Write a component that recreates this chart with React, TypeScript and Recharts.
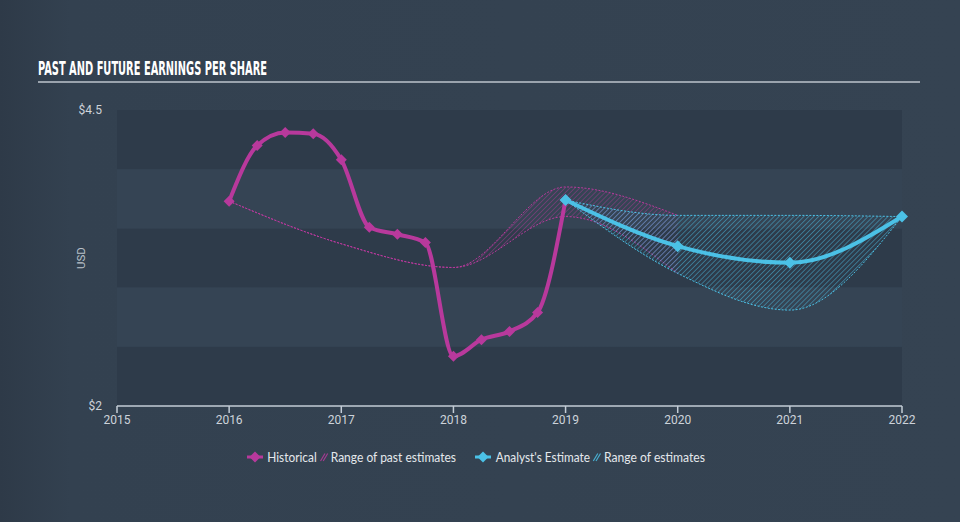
import React from 'react';
import { ComposedChart, Line, Area, XAxis, YAxis, ReferenceArea } from 'recharts';

const MAGENTA = '#b8399c';
const CYAN = '#4bc1e6';

// Historical EPS (quarterly points)
const histYears = [2016, 2016.25, 2016.5, 2016.75, 2017, 2017.25, 2017.5, 2017.75, 2018, 2018.25, 2018.5, 2018.75, 2019];
const histEps = [3.73, 4.2, 4.31, 4.3, 4.08, 3.51, 3.45, 3.38, 2.42, 2.56, 2.63, 2.79, 3.74];

// Range of past estimates
const pastYears = [2016, 2017, 2018, 2019, 2020];
const pastLow = [3.73, 3.37, 3.17, 3.6, 3.12];
const pastHigh = [3.73, 3.37, 3.17, 3.85, 3.61];

// Analyst estimates
const estYears = [2019, 2020, 2021, 2022];
const estEps = [3.74, 3.35, 3.21, 3.6];
const estLow = [3.74, 3.12, 2.81, 3.6];
const estHigh = [3.74, 3.61, 3.61, 3.6];

const xTicks = [2015, 2016, 2017, 2018, 2019, 2020, 2021, 2022];
const yTicks = [2, 4.5];
const bandsDark = [[4, 4.5], [3, 3.5], [2, 2.5]];
const bandsLight = [[3.5, 4], [2.5, 3]];

const histData = histYears.map((x, i) => ({ x, eps: histEps[i] }));
const pastRangeData = pastYears.map((x, i) => ({ x, range: [pastLow[i], pastHigh[i]] }));
const estData = estYears.map((x, i) => ({ x, eps: estEps[i] }));
const estRangeData = estYears.map((x, i) => ({ x, range: [estLow[i], estHigh[i]] }));

const diamondPath = (cx: number, cy: number, r: number) =>
  `M${cx},${cy - r} L${cx + r},${cy} L${cx},${cy + r} L${cx - r},${cy} Z`;

const makeDot = (color: string, r: number) => (p: any) => {
  if (p.cx == null || p.cy == null) return <g key={`d${p.index}`} />;
  return <path key={`d${p.index}`} d={diamondPath(p.cx, p.cy, r)} fill={color} />;
};

const HatchIcon = ({ x, color }: { x: number; color: string }) => (
  <g stroke={color} strokeWidth={1.2} strokeOpacity={0.85}>
    <line x1={x} y1={461} x2={x + 4.5} y2={453.5} />
    <line x1={x + 2.7} y1={461} x2={x + 7.2} y2={453.5} />
  </g>
);

const LegendOverlay = () => (
  <svg width={960} height={522} style={{ position: 'absolute', left: 0, top: 0, pointerEvents: 'none' }}>
    <text x={38} y={75} fill="#ffffff" fontFamily="'Liberation Sans Narrow', 'DejaVu Sans Condensed', sans-serif"
      fontWeight="bold" fontSize={20} textLength={229} lengthAdjust="spacingAndGlyphs">
      PAST AND FUTURE EARNINGS PER SHARE
    </text>
    <rect x={38} y={81} width={882} height={2} fill="#9aa3ad" />
    <text x={0} y={0} transform="translate(85,258) rotate(-90)" textAnchor="middle" fill="#b9c1ca"
      fontFamily="Roboto, sans-serif" fontSize={11.5}>USD</text>

    <g fontFamily="Lato, 'Noto Sans', sans-serif" fontSize={12.5} fill="#e4e8ec" lengthAdjust="spacingAndGlyphs">
      <line x1={247} y1={457} x2={263} y2={457} stroke={MAGENTA} strokeWidth={3} />
      <path d={diamondPath(255, 457, 5.5)} fill={MAGENTA} />
      <text x={267.3} y={461.5} textLength={49.4} lengthAdjust="spacingAndGlyphs">Historical</text>
      <HatchIcon x={320.5} color={MAGENTA} />
      <text x={330.7} y={461.5} textLength={125.3} lengthAdjust="spacingAndGlyphs">Range of past estimates</text>

      <line x1={475} y1={457} x2={491} y2={457} stroke={CYAN} strokeWidth={3} />
      <path d={diamondPath(483, 457, 5.5)} fill={CYAN} />
      <text x={495.7} y={461.5} textLength={94.3} lengthAdjust="spacingAndGlyphs">Analyst's Estimate</text>
      <HatchIcon x={593.3} color={CYAN} />
      <text x={604} y={461.5} textLength={101} lengthAdjust="spacingAndGlyphs">Range of estimates</text>
    </g>
  </svg>
);

export default function App() {
  return (
    <div style={{
      position: 'absolute', left: 0, top: 0, width: 960, height: 522,
      background: 'linear-gradient(to right, #2e3a48 0px, #334150 70px, #354352 960px)',
      overflow: 'hidden',
    }}>
      <ComposedChart width={960} height={522} margin={{ top: 110, right: 58, bottom: 86, left: 0 }}>
        <defs>
          <pattern id="pinkHatch" patternUnits="userSpaceOnUse" width="3.5" height="3.5" patternTransform="rotate(45)">
            <line x1="0" y1="0" x2="0" y2="3.5" stroke={MAGENTA} strokeWidth="1" strokeOpacity="0.75" />
          </pattern>
          <pattern id="cyanHatch" patternUnits="userSpaceOnUse" width="3.5" height="3.5" patternTransform="rotate(45)">
            <line x1="0" y1="0" x2="0" y2="3.5" stroke={CYAN} strokeWidth="1.1" strokeOpacity="0.8" />
          </pattern>
        </defs>
        <XAxis
          type="number"
          dataKey="x"
          domain={[2015, 2022]}
          ticks={xTicks}
          allowDuplicatedCategory={false}
          height={30}
          tickSize={7}
          tickMargin={2}
          axisLine={{ stroke: '#c3ccd6', strokeWidth: 1.5 }}
          tickLine={{ stroke: '#c3ccd6', strokeWidth: 1.5 }}
          tick={{ fill: '#cdd3da', fontSize: 12, fontFamily: 'Roboto, sans-serif' }}
          interval={0}
        />
        <YAxis
          type="number"
          domain={[2, 4.5]}
          ticks={yTicks}
          width={117}
          axisLine={false}
          tickLine={false}
          tickSize={6}
          tickMargin={9}
          tickFormatter={(v: number) => `$${v}`}
          tick={{ fill: '#cdd3da', fontSize: 12, fontFamily: 'Roboto, sans-serif' }}
        />
        {bandsDark.map(([a, b]) => (
          <ReferenceArea key={`dk${a}`} y1={a} y2={b} x1={2015} x2={2022} fill="#2e3b4a" fillOpacity={1} stroke="none" />
        ))}
        {bandsLight.map(([a, b]) => (
          <ReferenceArea key={`lt${a}`} y1={a} y2={b} x1={2015} x2={2022} fill="#354454" fillOpacity={1} stroke="none" />
        ))}
        <Area
          data={pastRangeData}
          dataKey="range"
          type="monotone"
          fill="url(#pinkHatch)"
          fillOpacity={1}
          stroke={MAGENTA}
          strokeWidth={1}
          strokeDasharray="2 1.5"
          isAnimationActive={false}
          dot={false}
          activeDot={false}
        />
        <Area
          data={estRangeData}
          dataKey="range"
          type="monotone"
          fill="url(#cyanHatch)"
          fillOpacity={1}
          stroke={CYAN}
          strokeWidth={1}
          strokeDasharray="2 1.5"
          isAnimationActive={false}
          dot={false}
          activeDot={false}
        />
        <Line
          data={histData}
          dataKey="eps"
          type="monotone"
          stroke={MAGENTA}
          strokeWidth={4}
          dot={makeDot(MAGENTA, 5.5)}
          activeDot={false}
          isAnimationActive={false}
        />
        <Line
          data={estData}
          dataKey="eps"
          type="monotone"
          stroke={CYAN}
          strokeWidth={4}
          dot={makeDot(CYAN, 6)}
          activeDot={false}
          isAnimationActive={false}
        />
      </ComposedChart>
      <LegendOverlay />
    </div>
  );
}
